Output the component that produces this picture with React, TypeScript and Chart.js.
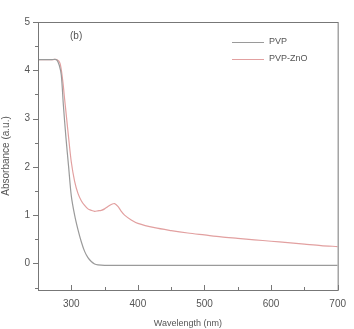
import React, { useEffect, useRef } from "react";
import { Chart, registerables } from "chart.js";

Chart.register(...registerables);

const pvpWavelength = [250, 260, 270, 278, 282, 285, 288, 292, 296, 300, 305, 310, 315, 320, 325, 330, 335, 340, 350, 400, 450, 500, 550, 600, 650, 700];
const pvpAbsorbance = [4.22, 4.22, 4.22, 4.22, 4.1, 3.9, 3.3, 2.6, 2.0, 1.4, 1.0, 0.7, 0.45, 0.25, 0.12, 0.04, -0.01, -0.03, -0.04, -0.04, -0.04, -0.04, -0.04, -0.04, -0.04, -0.04];

const znoWavelength = [250, 260, 270, 278, 283, 287, 290, 293, 296, 300, 305, 310, 315, 320, 325, 330, 335, 340, 345, 350, 355, 360, 365, 370, 375, 380, 390, 400, 425, 450, 475, 500, 525, 550, 575, 600, 625, 650, 675, 700];
const znoAbsorbance = [4.22, 4.22, 4.22, 4.22, 4.15, 3.8, 3.4, 3.0, 2.6, 2.1, 1.7, 1.45, 1.3, 1.2, 1.13, 1.1, 1.08, 1.09, 1.1, 1.13, 1.18, 1.22, 1.24, 1.18, 1.08, 1.0, 0.9, 0.83, 0.74, 0.68, 0.63, 0.59, 0.55, 0.52, 0.49, 0.46, 0.43, 0.4, 0.37, 0.35];

const seriesNames = ["PVP", "PVP-ZnO"];
const xTicks = [300, 400, 500, 600, 700];
const yTicks = [0, 1, 2, 3, 4, 5];
const xTitle = "Wavelength (nm)";
const yTitle = "Absorbance (a.u.)";
const panelLabel = "(b)";

const colors = ["#9a9a9a", "#e2a0a0"];
const axisColor = "#777";
const textColor = "#555";
const font = "Arial, 'Liberation Sans', sans-serif";

export default function App() {
  const ref = useRef<HTMLCanvasElement>(null);
  useEffect(() => {
    if (!ref.current) return;
    const framePlugin = {
      id: "frame",
      afterDraw(chart: any) {
        const { ctx, chartArea: a } = chart;
        const xs = chart.scales.x;
        const ys = chart.scales.y;
        ctx.save();
        ctx.strokeStyle = axisColor;
        ctx.lineWidth = 1;
        ctx.strokeRect(a.left + 0.5, a.top + 0.5, a.right - a.left, a.bottom - a.top);
        for (let v = 250; v <= 700; v += 50) {
          const px = Math.round(xs.getPixelForValue(v)) + 0.5;
          const len = v % 100 === 0 ? 5 : 3;
          ctx.beginPath();
          ctx.moveTo(px, a.bottom);
          ctx.lineTo(px, a.bottom - len);
          ctx.stroke();
        }
        for (let v = -0.5; v <= 5; v += 0.5) {
          const py = Math.round(ys.getPixelForValue(v)) + 0.5;
          const len = Math.abs(v - Math.round(v)) < 1e-6 ? 5 : 3;
          ctx.beginPath();
          ctx.moveTo(a.left - len, py);
          ctx.lineTo(a.left, py);
          ctx.stroke();
        }
        ctx.font = `9px ${font}`;
        ctx.textBaseline = "middle";
        seriesNames.forEach((name, i) => {
          const y = 42 + i * 17;
          ctx.strokeStyle = colors[i];
          ctx.beginPath();
          ctx.moveTo(232, y + 0.5);
          ctx.lineTo(264, y + 0.5);
          ctx.stroke();
          ctx.fillStyle = textColor;
          ctx.fillText(name, 269, y);
        });
        ctx.font = `10px ${font}`;
        ctx.fillText(panelLabel, 70, 36);
        ctx.restore();
      },
    };
    const chart = new Chart(ref.current, {
      type: "line",
      data: {
        datasets: [
          {
            label: seriesNames[0],
            data: pvpWavelength.map((x, i) => ({ x, y: pvpAbsorbance[i] })),
            borderColor: colors[0],
            borderWidth: 1.2,
            pointRadius: 0,
            tension: 0.3,
          },
          {
            label: seriesNames[1],
            data: znoWavelength.map((x, i) => ({ x, y: znoAbsorbance[i] })),
            borderColor: colors[1],
            borderWidth: 1.2,
            pointRadius: 0,
            tension: 0.3,
          },
        ],
      },
      options: {
        animation: false,
        responsive: false,
        maintainAspectRatio: false,
        layout: { padding: { top: 22, right: 9, left: 0, bottom: 0 } },
        plugins: { legend: { display: false }, tooltip: { enabled: false } },
        scales: {
          x: {
            type: "linear",
            min: 250,
            max: 700,
            afterBuildTicks: (s: any) => {
              s.ticks = xTicks.map((value) => ({ value }));
            },
            afterFit: (s: any) => {
              s.height = 39;
            },
            grid: { display: false, drawTicks: false },
            border: { display: false },
            ticks: { color: textColor, font: { size: 10, family: font }, padding: 8, maxRotation: 0 },
            title: { display: true, text: xTitle, color: textColor, font: { size: 9, family: font }, padding: { top: 1, bottom: 0 } },
          },
          y: {
            min: -0.55,
            max: 5,
            afterBuildTicks: (s: any) => {
              s.ticks = yTicks.map((value) => ({ value }));
            },
            afterFit: (s: any) => {
              s.width = 38;
            },
            grid: { display: false, drawTicks: false },
            border: { display: false },
            ticks: { color: textColor, font: { size: 10, family: font }, padding: 8 },
            title: { display: true, text: yTitle, color: textColor, font: { size: 10, family: font }, padding: { top: 0, bottom: 1 } },
          },
        },
      },
      plugins: [framePlugin],
    });
    return () => chart.destroy();
  }, []);
  return (
    <div style={{ position: "fixed", left: 0, top: 0, width: 354, height: 329, background: "#fff" }}>
      <canvas ref={ref} width={354} height={329} />
    </div>
  );
}
